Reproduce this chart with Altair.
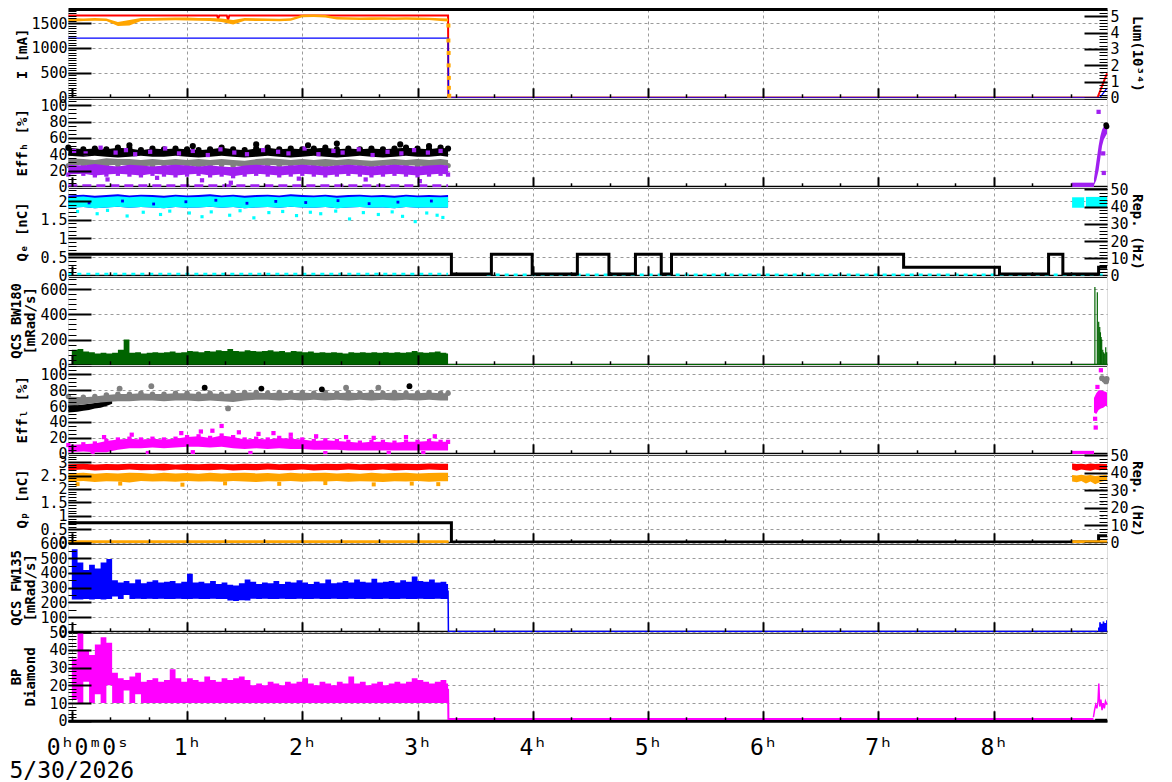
import altair as alt
import pandas as pd

FONT = "DejaVu Sans Mono"
W, H = 1039, 88.8
XDOM = [-0.033, 8.983]
GRIDC = "#9a9a9a"
ORANGE, PURPLE, CYAN, BLUE = "#ffa500", "#a020f0", "#00ffff", "#0000ff"
GREEN, MAGENTA, RED, GRAY = "#006400", "#ff00ff", "#ff0000", "#808080"

HOURS = [0, 1, 2, 3, 4, 5, 6, 7, 8]
GRID_H = [1, 2, 3, 4, 5, 6, 7, 8]
MINOR_H = [h + f for h in range(9) for f in (1 / 3, 2 / 3) if h + f < 8.98]

# ---- sample clocks (hours) ----
TB = [-0.03] + [round(0.1 * i, 1) for i in range(1, 33)] + [3.265]
TF = [round(0.05 * i, 2) for i in range(66)] + [3.265]

# ---- panel 1 : I [mA] ----
I_ORG_LO = [1520, 1540, 1545, 1540, 1440, 1450, 1540, 1545, 1550, 1555, 1550, 1545, 1540, 1520, 1470, 1545, 1540,
            1540, 1535, 1545, 1615, 1620, 1610, 1570, 1565, 1560, 1560, 1565, 1560, 1565, 1560, 1560, 1540, 1530]
I_ORG_HI = [1600, 1590, 1600, 1590, 1520, 1560, 1600, 1600, 1605, 1610, 1610, 1600, 1600, 1590, 1560, 1600, 1595,
            1590, 1585, 1595, 1665, 1670, 1660, 1620, 1615, 1610, 1615, 1615, 1610, 1615, 1610, 1605, 1595, 1590]
I_DROP_T = [3.268, 3.268, 3.27, 3.27, 3.272, 3.272, 3.275]
I_DROP_V = [1450, 1150, 900, 650, 400, 200, 40]
I_RED_T = [-0.03, 1.26, 1.27, 1.28, 1.345, 1.356, 1.367, 3.265, 3.268, 8.90, 8.983]
I_RED_V = [1650, 1650, 1590, 1650, 1650, 1560, 1650, 1650, 0, 0, 490]
I_BLUE_T = [-0.03, 3.265, 3.268, 8.92, 8.983]
I_BLUE_V = [1197, 1197, 0, 0, 195]

# ---- panel 2 : Eff_H [%] ----
EH_BLK_LO = [38, 37, 38, 37, 36, 37, 38, 37, 37, 38, 37, 36, 37, 38, 37, 36, 37, 38, 37, 36, 37, 38, 37, 36, 37, 38,
             37, 36, 37, 38, 37, 37, 38, 37]
EH_BLK_HI = [48, 46, 47, 46, 48, 47, 45, 47, 46, 47, 46, 45, 46, 48, 46, 45, 47, 48, 46, 47, 46, 47, 48, 46, 47, 46,
             47, 46, 47, 48, 47, 46, 48, 47]
EH_GRY_LO = [26, 27, 25, 26, 27, 26, 25, 26, 27, 26, 26, 25, 26, 27, 26, 25, 26, 27, 26, 26, 27, 26, 25, 26, 27, 26,
             25, 26, 27, 26, 26, 25, 26, 26]
EH_GRY_HI = [35, 34, 33, 35, 34, 34, 33, 34, 33, 34, 33, 34, 33, 34, 33, 32, 34, 35, 34, 33, 34, 33, 34, 33, 34, 33,
             32, 33, 34, 33, 34, 33, 34, 33]
EH_PUR_LO = [15, 16, 14, 15, 16, 15, 14, 16, 15, 14, 15, 16, 14, 15, 13, 15, 16, 15, 14, 15, 16, 15, 14, 15, 16, 15,
             14, 15, 16, 15, 14, 15, 16, 15]
EH_PUR_HI = [27, 26, 28, 26, 25, 27, 26, 25, 26, 27, 26, 25, 26, 25, 24, 26, 27, 26, 25, 26, 27, 26, 25, 26, 27, 26,
             25, 26, 27, 26, 25, 26, 27, 26]
EH_POUT_T = [0.02, 0.12, 0.25, 0.38, 0.47, 0.55, 0.68, 0.81, 0.93, 1.05, 1.18, 1.29, 1.41, 1.52, 1.66, 1.79, 1.88,
             2.02, 2.14, 2.27, 2.35, 2.49, 2.61, 2.74, 2.86, 2.97, 3.09, 3.20, 0.31, 0.74, 1.13, 1.38, 1.97, 2.55, 3.02]
EH_POUT_V = [44, 41, 48, 42, 45, 40, 43, 47, 41, 44, 39, 46, 42, 40, 45, 43, 41, 47, 40, 44, 42, 46, 39, 43, 41, 45,
             42, 44, 9, 11, 8, 5, 10, 9, 7]
EH_BOUT_T = [0.50, 1.05, 1.60, 2.05, 2.30, 2.85, 3.10]
EH_BOUT_V = [51, 50, 52, 51, 53, 52, 50]
EH_ZERO_T = [-0.03, 3.265]
EH_ZERO_V = [0.6, 0.6]
EH_END_T = [8.87, 8.89, 8.91, 8.925, 8.94, 8.955, 8.97, 8.983]
EH_END_LO = [2, 8, 20, 35, 50, 58, 62, 65]
EH_END_HI = [10, 30, 50, 62, 70, 74, 76, 77]
EH_LOW_T = [8.676, 8.87]
EH_LOW_V = [2, 2]
EH_EOUT_T = [8.91, 8.95, 8.955]
EH_EOUT_V = [92, 41, 17]
EH_EBLK_T = [8.975, 8.98]
EH_EBLK_V = [76, 74]

# ---- panel 3 : Q_e [nC] / Rep. (Hz) ----
QE_CY_LO = [1.82, 1.84, 1.81, 1.83, 1.85, 1.82, 1.84, 1.83, 1.81, 1.84, 1.82, 1.83, 1.85, 1.82, 1.84, 1.81, 1.83,
            1.84, 1.82, 1.85, 1.83, 1.82, 1.84, 1.81, 1.83, 1.84, 1.82, 1.83, 1.81, 1.84, 1.82, 1.83, 1.82, 1.83]
QE_CY_HI = [2.10, 2.12, 2.09, 2.11, 2.13, 2.10, 2.12, 2.11, 2.09, 2.12, 2.10, 2.11, 2.13, 2.10, 2.12, 2.09, 2.11,
            2.12, 2.10, 2.13, 2.11, 2.10, 2.12, 2.09, 2.11, 2.12, 2.10, 2.11, 2.09, 2.12, 2.10, 2.11, 2.10, 2.11]
QE_BL_HI = [2.15, 2.17, 2.14, 2.16, 2.18, 2.15, 2.17, 2.16, 2.14, 2.17, 2.15, 2.16, 2.18, 2.15, 2.17, 2.14, 2.16,
            2.17, 2.15, 2.18, 2.16, 2.15, 2.17, 2.14, 2.16, 2.17, 2.15, 2.16, 2.14, 2.17, 2.15, 2.16, 2.15, 2.16]
QE_OUT_T = [0.05, 0.22, 0.31, 0.48, 0.62, 0.77, 0.85, 1.02, 1.13, 1.21, 1.37, 1.46, 1.58, 1.71, 1.83, 1.95, 2.07,
            2.16, 2.29, 2.41, 2.53, 2.66, 2.78, 2.87, 2.98, 3.08, 3.17, 3.22]
QE_OUT_V = [1.72, 1.66, 1.75, 1.60, 1.70, 1.64, 1.73, 1.68, 1.58, 1.71, 1.62, 1.74, 1.55, 1.69, 1.72, 1.61, 1.70,
            1.66, 1.73, 1.52, 1.69, 1.64, 1.71, 1.59, 1.45, 1.68, 1.62, 1.56]
QE_BOUT_T = [0.15, 0.44, 0.71, 0.99, 1.25, 1.52, 1.77, 2.03, 2.31, 2.58, 2.83, 3.12]
QE_BOUT_V = [1.95, 2.0, 1.92, 1.98, 2.02, 1.94, 1.99, 1.96, 2.01, 1.93, 1.97, 2.0]
QE_LOW_T = [-0.03, 3.265, 3.6, 8.983]
QE_LOW_V = [0.045, 0.045, 0.03, 0.03]
QE_LOW_S = ["a", "a", "b", "b"]
QE_END_T = [8.68, 8.785, 8.80, 8.983]
QE_END_LO = [1.82, 1.82, 1.82, 1.82]
QE_END_HI = [2.10, 2.10, 2.11, 2.11]
QE_END_S = ["a", "a", "b", "b"]
REP_E_T = [-0.03, 3.294, 3.641, 3.995, 4.387, 4.661, 4.891, 5.115, 5.204, 7.218, 8.05, 8.476, 8.60, 8.91, 8.983]
REP_E_V = [12.5, 1, 12.5, 1, 12.5, 1, 12.5, 1, 12.5, 5, 1, 12.5, 1, 5, 5]

# ---- panel 4 : QCS BW180 ----
BW_TOP = [120, 125, 105, 100, 90, 95, 90, 95, 120, 200, 95, 100, 90, 95, 100, 95, 100, 105, 95, 100,
          110, 105, 100, 110, 105, 115, 110, 125, 110, 105, 115, 110, 105, 110, 115, 105, 110, 100, 110, 105,
          100, 105, 95, 100, 95, 100, 95, 90, 100, 95, 100, 95, 100, 95, 100, 95, 100, 95, 100, 110,
          100, 95, 100, 105, 95, 90]
BW_ZERO_T = [3.265, 8.983]
BW_ZERO_V = [0, 0]
BW_END_T = [8.878, 8.899, 8.911, 8.92, 8.926, 8.932, 8.937, 8.946, 8.954, 8.963, 8.972, 8.98]
BW_END_V = [617, 575, 341, 300, 258, 220, 200, 120, 100, 90, 140, 100]

# ---- panel 5 : Eff_L [%] ----
EL_GRY_LO = [60, 62, 64, 65, 66, 66, 67, 67, 66, 67, 67, 66, 67, 66, 65, 67, 68, 68, 67, 68, 67, 68, 67, 68, 67, 68,
             67, 68, 67, 68, 67, 68, 67, 67]
EL_GRY_HI = [72, 71, 72, 74, 75, 75, 76, 75, 75, 76, 76, 75, 76, 75, 76, 77, 77, 76, 77, 76, 77, 76, 77, 76, 77, 76,
             77, 76, 77, 76, 76, 77, 76, 76]
EL_BLK_T = [-0.03, 0.05, 0.10, 0.15, 0.20, 0.25, 0.30, 0.35]
EL_BLK_LO = [52, 53, 54, 55, 57, 58, 60, 63]
EL_BLK_HI = [62, 61, 62, 63, 64, 65, 66, 68]
EL_MAG_LO = [2, 3, 2, 2, 5, 7, 7, 8, 7, 8, 9, 9, 8, 9, 7, 6, 7, 6, 7, 6, 6, 5, 5, 5, 4, 4, 4, 4, 4, 4, 4, 4, 4, 4]
EL_MAG_HI = [11, 12, 13, 16, 18, 19, 18, 19, 18, 19, 21, 22, 20, 23, 21, 18, 19, 18, 20, 19, 18, 16, 17, 16, 15, 14,
             15, 15, 14, 15, 15, 16, 15, 15]
EL_MOUT_T = [0.28, 0.52, 0.95, 1.12, 1.22, 1.30, 1.45, 1.62, 1.75, 1.90, 2.12, 2.38, 2.62, 2.90, 3.15,
             0.18, 0.66, 1.05, 1.55, 2.20, 2.75, 3.05]
EL_MOUT_V = [21, 24, 26, 28, 29, 35, 27, 25, 26, 24, 22, 21, 20, 21, 22, 0.8, 1, 2, 1, 0.8, 1, 1]
EL_GOUT_T = [0.415, 0.69, 1.356, 2.38, 2.66, 8.94, 8.96, 8.975, 8.98]
EL_GOUT_V = [82, 85, 57, 83, 83, 95, 93, 91, 94]
EL_KOUT_T = [1.153, 1.645, 2.17, 2.93]
EL_KOUT_V = [83, 82, 81, 85]
EL_END_T = [8.87, 8.89, 8.91, 8.93, 8.95, 8.97, 8.983]
EL_END_LO = [52, 50, 55, 57, 58, 60, 60]
EL_END_HI = [70, 76, 80, 80, 79, 78, 77]
EL_EOUT_T = [8.88, 8.885, 8.93, 8.90]
EL_EOUT_V = [44, 33, 105, 84]
EL_LOW_T = [8.676, 8.87]
EL_LOW_V = [1.2, 1.2]

# ---- panel 6 : Q_p [nC] / Rep. (Hz) ----
QP_RED_LO = [2.70, 2.72, 2.69, 2.71, 2.70, 2.72, 2.70, 2.71, 2.69, 2.72, 2.70, 2.71, 2.70, 2.72, 2.69, 2.71, 2.70,
             2.72, 2.71, 2.70, 2.72, 2.69, 2.71, 2.70, 2.72, 2.71, 2.70, 2.72, 2.69, 2.71, 2.70, 2.72, 2.71, 2.71]
QP_RED_HI = [2.92, 2.94, 2.91, 2.93, 2.92, 2.94, 2.93, 2.92, 2.94, 2.91, 2.93, 2.92, 2.94, 2.93, 2.92, 2.94, 2.93,
             2.95, 2.92, 2.94, 2.93, 2.92, 2.94, 2.93, 2.95, 2.92, 2.94, 2.93, 2.95, 2.94, 2.93, 2.95, 2.94, 2.94]
QP_ORG_LO = [2.27, 2.30, 2.26, 2.29, 2.28, 2.24, 2.30, 2.28, 2.29, 2.27, 2.30, 2.28, 2.29, 2.27, 2.30, 2.28, 2.26,
             2.29, 2.28, 2.30, 2.27, 2.29, 2.28, 2.30, 2.27, 2.29, 2.28, 2.26, 2.29, 2.28, 2.30, 2.27, 2.29, 2.29]
QP_ORG_HI = [2.58, 2.60, 2.57, 2.59, 2.58, 2.60, 2.59, 2.57, 2.60, 2.58, 2.59, 2.57, 2.60, 2.58, 2.59, 2.60, 2.58,
             2.59, 2.57, 2.60, 2.58, 2.59, 2.60, 2.58, 2.59, 2.57, 2.60, 2.58, 2.59, 2.60, 2.58, 2.59, 2.60, 2.60]
QP_OOUT_T = [0.05, 0.42, 0.96, 1.33, 1.80, 2.20, 2.62, 2.95, 3.18]
QP_OOUT_V = [2.18, 2.20, 2.16, 2.21, 2.19, 2.22, 2.17, 2.20, 2.18]
QP_END_T = [8.68, 8.72, 8.76, 8.80, 8.84, 8.88, 8.92, 8.96, 8.983]
QP_END_RLO = [2.72, 2.68, 2.72, 2.70, 2.68, 2.72, 2.70, 2.72, 2.72]
QP_END_RHI = [2.95, 2.93, 2.94, 2.92, 2.95, 2.93, 2.94, 2.93, 2.93]
QP_END_OLO = [2.28, 2.25, 2.30, 2.20, 2.28, 2.18, 2.25, 2.30, 2.30]
QP_END_OHI = [2.52, 2.50, 2.53, 2.50, 2.52, 2.48, 2.50, 2.52, 2.52]
REP_P_T = [-0.03, 3.294, 8.91, 8.983]
REP_P_V = [11.5, 0.5, 4, 4]
QP_OLINE_T = [-0.03, 3.27, 8.68, 8.983]
QP_OLINE_V = [0.6, 0.6, 0.6, 0.6]
QP_OLINE_S = ["a", "a", "b", "b"]

# ---- panel 7 : QCS FW135 ----
FW_TOP = [560, 470, 420, 455, 430, 470, 495, 350, 335, 345, 330, 355, 330, 340, 350, 335, 340, 345, 330, 340,
          395, 335, 340, 330, 345, 325, 335, 320, 315, 330, 355, 340, 325, 335, 330, 345, 325, 340, 335, 350,
          335, 325, 340, 330, 355, 330, 335, 345, 335, 355, 340, 335, 360, 335, 340, 345, 335, 350, 340, 375,
          345, 340, 355, 335, 340, 325]
FW_BOT = [220, 220, 222, 220, 222, 220, 222, 240, 222, 250, 222, 224, 222, 224, 222, 224, 222, 222, 224, 222,
          222, 224, 222, 222, 224, 222, 222, 212, 210, 214, 212, 225, 222, 224, 222, 222, 224, 222, 222, 224,
          222, 222, 224, 222, 222, 224, 222, 222, 224, 222, 222, 224, 222, 222, 224, 222, 222, 224, 222, 222,
          224, 222, 222, 224, 222, 222]
FW_DROP_T = [3.265, 3.268, 8.90]
FW_DROP_V = [280, 1.5, 1.5]
FW_END_T = [8.895, 8.905, 8.915, 8.93, 8.945, 8.96, 8.975, 8.983]
FW_END_V = [0, 30, 65, 55, 70, 60, 78, 80]

# ---- panel 8 : BP Diamond ----
BP_TOP = [35, 50, 40, 37, 43, 47, 44, 27, 24, 23, 25, 27, 22, 23, 24, 22, 23, 29, 24, 22,
          24, 23, 22, 25, 23, 22, 24, 23, 24, 25, 23, 20, 21, 20, 22, 21, 20, 22, 21, 22,
          24, 21, 20, 22, 21, 20, 22, 21, 25, 21, 22, 20, 21, 22, 20, 21, 22, 21, 22, 24,
          23, 22, 21, 22, 23, 21]
BP_BOT = [12, 10, 22, 10, 15, 10, 20, 10, 10, 17, 10, 15, 10, 10, 10, 10, 10, 10, 10, 10,
          10, 10, 10, 10, 10, 10, 10, 10, 10, 10, 10, 10, 10, 10, 10, 10, 10, 10, 10, 10,
          10, 10, 10, 10, 10, 10, 10, 10, 10, 10, 10, 10, 10, 10, 10, 10, 10, 10, 10, 10,
          10, 10, 10, 10, 10, 10]
BP_DROP_T = [3.265, 3.268, 8.865]
BP_DROP_V = [18, 1.0, 1.0]
BP_END_T = [8.865, 8.875, 8.885, 8.895, 8.905, 8.912, 8.92, 8.93, 8.94, 8.95, 8.96, 8.97, 8.983]
BP_END_V = [2, 6, 9, 7, 11, 21, 8, 12, 6, 10, 7, 11, 9]
BP_BLK_T = [8.88, 8.983]
BP_BLK_V = [0.3, 0.3]


# ---------------------------------------------------------------- helpers
def sc(dom):
    return alt.Scale(domain=dom, nice=False, zero=False)


def xe(axis=None):
    return alt.X("t:Q", scale=sc(XDOM), axis=axis)


def df(t, **cols):
    d = {"t": t}
    d.update(cols)
    return pd.DataFrame(d)


def band(data, dom, color, interp="linear", detail=False):
    enc = dict(x=xe(), y=alt.Y("hi:Q", scale=sc(dom), axis=None), y2=alt.Y2("lo"))
    if detail:
        enc["detail"] = alt.Detail("s:N")
    return alt.Chart(data).mark_area(color=color, interpolate=interp, opacity=1).encode(**enc)


def line(data, dom, color, width=1.5, interp="linear", dash=None, detail=False):
    kw = dict(color=color, strokeWidth=width, interpolate=interp)
    if dash:
        kw["strokeDash"] = dash
    enc = dict(x=xe(), y=alt.Y("v:Q", scale=sc(dom), axis=None))
    if detail:
        enc["detail"] = alt.Detail("s:N")
    return alt.Chart(data).mark_line(**kw).encode(**enc)


def pts(data, dom, color, field="v", shape="square", size=14):
    return alt.Chart(data).mark_point(shape=shape, size=size, filled=True, color=color, opacity=1).encode(
        x=xe(), y=alt.Y(f"{field}:Q", scale=sc(dom), axis=None))


def carrier(dom, xaxis=None, yaxis=None):
    d = pd.DataFrame({"t": [XDOM[0]], "v": [dom[0]]})
    return alt.Chart(d).mark_point(opacity=0).encode(
        x=alt.X("t:Q", scale=sc(XDOM), axis=xaxis),
        y=alt.Y("v:Q", scale=sc(dom), axis=yaxis))


TITLE_KW = dict(titleFont=FONT, titleFontSize=14, titleFontWeight="bold", titleColor="black",
                titleY=H / 2, titleAngle=270, titleAlign="center", titleBaseline="middle")


def left_label_axis(values, title, tx):
    return alt.Axis(orient="left", values=values, format="~r", labelFontSize=15, labelPadding=1,
                    labelOverlap=False, labelColor="black", labelFont=FONT, ticks=False, tickSize=0,
                    domain=False, grid=True, gridColor=GRIDC, gridDash=[3, 3], gridWidth=1,
                    title=title, titleX=tx, **TITLE_KW)


def right_label_axis(values, title):
    return alt.Axis(orient="right", values=values, format="~r", labelFontSize=15, labelPadding=3,
                    labelOverlap=False, labelColor="black", labelFont=FONT, ticks=False, tickSize=0,
                    domain=False, grid=False, title=title, titleFont=FONT, titleFontSize=14,
                    titleFontWeight="bold", titleColor="black", titleX=29, titleY=H / 2, titleAngle=90,
                    titleAlign="center", titleBaseline="middle")


def tick_axis(orient, values, size, width, title="", tx=None):
    kw = dict(orient=orient, values=values, labels=False, ticks=True, tickSize=size, tickWidth=width,
              tickColor="black", offset=-size, domain=False, grid=False, title=title, zindex=1)
    if title:
        kw.update(titleX=tx, **TITLE_KW)
    return alt.Axis(**kw)


def x_grid_axis(bottom):
    kw = dict(orient="bottom", values=GRID_H if not bottom else HOURS, grid=True, gridColor=GRIDC,
              gridDash=[3, 3], gridWidth=1, ticks=False, tickSize=0, domain=True, domainColor="black",
              domainWidth=3, labels=bottom)
    if bottom:
        kw.update(labelExpr="datum.value == 0 ? '0\u02b00\u1d500\u02e2' : format(datum.value, 'd') + '\u02b0'",
                  labelOffset={"condition": {"test": "datum.value == 0", "value": 16}, "value": 0},
                  labelFontSize=23, labelFont=FONT, labelColor="black", labelPadding=16, labelFlush=False,
                  labelOverlap=False, title="5/30/2026", titleFont=FONT, titleFontSize=23,
                  titleFontWeight="normal", titleColor="black", titleX=-59, titleY=57, titleAlign="left",
                  titleAnchor="start", titleBaseline="alphabetic", titleAngle=0)
    else:
        kw["title"] = ""
    return alt.Axis(**kw)


def top_axis():
    return alt.Axis(orient="top", ticks=False, labels=False, grid=False, domain=True, domainColor="black",
                    domainWidth=3, title="")


def panel(data_layers, dom, major, minor, title, right=None, bottom=False, top=False):
    if isinstance(title, list):
        t1, t1x, t2, t2x = title[0], -52, title[1], -38 - 8
    else:
        t1, t1x, t2, t2x = title, -46, "", None
    L = [carrier(dom, x_grid_axis(bottom), left_label_axis(major, t1, t1x)),
         carrier(dom, tick_axis("bottom", HOURS, 10, 2), tick_axis("left", major, 23, 2)),
         carrier(dom, tick_axis("bottom", MINOR_H, 4, 1.5), tick_axis("left", minor, 8, 1, t2, t2x))]
    if top:
        L.append(carrier(dom, top_axis(), None))
    if right:
        rdom, rmajor, rminor, rtitle = right
        L += [carrier(rdom, None, right_label_axis(rmajor, rtitle)),
              carrier(rdom, None, tick_axis("right", rmajor, 23, 2)),
              carrier(rdom, None, tick_axis("right", rminor, 8, 1))]
    L += data_layers
    return alt.layer(*L).resolve_scale(y="independent").resolve_axis(x="independent").properties(
        width=W, height=H)


def steps(lo, hi, n):
    return [round(lo + hi * i, 4) for i in range(n)]


def close(a):
    return a + [a[-1]]


# ---------------------------------------------------------------- panels
D1, DL = [0, 1782], [0, 5.45]
p1 = panel([
    line(df(I_RED_T, v=I_RED_V), D1, RED, 2),
    line(df(I_BLUE_T, v=I_BLUE_V), D1, BLUE, 1.3),
    band(df(TB, lo=I_ORG_LO, hi=I_ORG_HI), D1, ORANGE),
    pts(df(I_DROP_T, v=I_DROP_V), D1, ORANGE, size=16),
], D1, [0, 500, 1000, 1500], steps(0, 50, 36), "I [mA]",
    right=(DL, [0, 1, 2, 3, 4, 5], steps(0, 0.2, 28), "Lum(10\u00b3\u2074)"), top=True)

D2 = [0, 109]
p2 = panel([
    band(df(TB, lo=EH_BLK_LO, hi=EH_BLK_HI), D2, "black"),
    pts(df(TB, v=EH_BLK_HI), D2, "black", shape="circle", size=38),
    band(df(TB, lo=EH_GRY_LO, hi=EH_GRY_HI), D2, GRAY),
    pts(df(TB, v=EH_GRY_LO), D2, GRAY, shape="circle", size=30),
    band(df(TB, lo=EH_PUR_LO, hi=EH_PUR_HI), D2, PURPLE),
    pts(df(TB, v=EH_PUR_LO), D2, PURPLE, size=18),
    pts(df(EH_POUT_T, v=EH_POUT_V), D2, PURPLE, size=18),
    pts(df(EH_BOUT_T, v=EH_BOUT_V), D2, "black", shape="circle", size=38),
    line(df(EH_ZERO_T, v=EH_ZERO_V), D2, PURPLE, 4, dash=[9, 5]),
    line(df(EH_LOW_T, v=EH_LOW_V), D2, PURPLE, 5),
    band(df(EH_END_T, lo=EH_END_LO, hi=EH_END_HI), D2, PURPLE),
    pts(df(EH_EOUT_T, v=EH_EOUT_V), D2, PURPLE, size=18),
    pts(df(EH_EBLK_T, v=EH_EBLK_V), D2, "black", shape="circle", size=30),
], D2, [0, 20, 40, 60, 80, 100], steps(0, 5, 22), "Eff\u2095 [%]")

D3, DR3 = [0, 2.375], [0, 51.3]
p3 = panel([
    band(df(TB, lo=QE_CY_LO, hi=QE_BL_HI), D3, BLUE),
    band(df(TB, lo=QE_CY_LO, hi=QE_CY_HI), D3, CYAN),
    pts(df(QE_BOUT_T, v=QE_BOUT_V), D3, BLUE, size=8),
    pts(df(QE_OUT_T, v=QE_OUT_V), D3, CYAN, size=10),
    line(df(QE_LOW_T, v=QE_LOW_V, s=QE_LOW_S), D3, CYAN, 2.5, dash=[4, 5], detail=True),
    band(df(QE_END_T, lo=QE_END_LO, hi=QE_END_HI, s=QE_END_S), D3, CYAN, detail=True),
    line(df(REP_E_T, v=REP_E_V), DR3, "black", 3, interp="step-after"),
], D3, [0, 0.5, 1, 1.5, 2], steps(0, 0.1, 24), "Q\u2091 [nC]",
    right=(DR3, [0, 10, 20, 30, 40, 50], steps(0, 2, 26), "Rep. (Hz)"))

D4 = [0, 704]
p4 = panel([
    alt.Chart(df(TF, v=close(BW_TOP))).mark_area(color=GREEN, interpolate="step-after").encode(
        x=xe(), y=alt.Y("v:Q", scale=sc(D4), axis=None)),
    line(df(BW_ZERO_T, v=BW_ZERO_V), D4, GREEN, 1.5),
    alt.Chart(df(BW_END_T, v=BW_END_V)).mark_rule(color=GREEN, strokeWidth=1.2).encode(
        x=xe(), y=alt.Y("v:Q", scale=sc(D4), axis=None), y2=alt.datum(0)),
], D4, [0, 200, 400, 600], steps(0, 40, 18), ["QCS BW180", "[mRad/s]"])

D5 = [0, 111.6]
p5 = panel([
    band(df(EL_BLK_T, lo=EL_BLK_LO, hi=EL_BLK_HI), D5, "black"),
    band(df(TB, lo=EL_GRY_LO, hi=EL_GRY_HI), D5, GRAY),
    pts(df(TB, v=EL_GRY_HI), D5, GRAY, shape="circle", size=30),
    pts(df(EL_KOUT_T, v=EL_KOUT_V), D5, "black", shape="circle", size=34),
    pts(df(EL_GOUT_T, v=EL_GOUT_V), D5, GRAY, shape="circle", size=34),
    band(df(TB, lo=EL_MAG_LO, hi=EL_MAG_HI), D5, MAGENTA),
    pts(df(TB, v=EL_MAG_HI), D5, MAGENTA, size=18),
    pts(df(EL_MOUT_T, v=EL_MOUT_V), D5, MAGENTA, size=18),
    band(df(EL_END_T, lo=EL_END_LO, hi=EL_END_HI), D5, MAGENTA),
    pts(df(EL_EOUT_T, v=EL_EOUT_V), D5, MAGENTA, size=18),
    line(df(EL_LOW_T, v=EL_LOW_V), D5, MAGENTA, 4),
], D5, [0, 20, 40, 60, 80, 100], steps(0, 5, 23), "Eff\u2097 [%]")

D6, DR6 = [0, 3.3], [0, 50.7]
p6 = panel([
    band(df(TB, lo=QP_RED_LO, hi=QP_RED_HI), D6, RED),
    band(df(TB, lo=QP_ORG_LO, hi=QP_ORG_HI), D6, ORANGE),
    pts(df(QP_OOUT_T, v=QP_OOUT_V), D6, ORANGE, size=16),
    band(df(QP_END_T, lo=QP_END_RLO, hi=QP_END_RHI), D6, RED),
    band(df(QP_END_T, lo=QP_END_OLO, hi=QP_END_OHI), D6, ORANGE),
    line(df(REP_P_T, v=REP_P_V), DR6, "black", 3, interp="step-after"),
    line(df(QP_OLINE_T, v=QP_OLINE_V, s=QP_OLINE_S), DR6, ORANGE, 3, detail=True),
], D6, [0, 0.5, 1, 1.5, 2, 2.5, 3], steps(0, 0.1, 33), "Q\u209a [nC]",
    right=(DR6, [0, 10, 20, 30, 40, 50], steps(0, 2, 26), "Rep. (Hz)"))

D7 = [0, 603]
p7 = panel([
    band(df(TF, lo=close(FW_BOT), hi=close(FW_TOP)), D7, BLUE, interp="step-after"),
    line(df(FW_DROP_T, v=FW_DROP_V), D7, BLUE, 1.5),
    alt.Chart(df(FW_END_T, v=FW_END_V)).mark_area(color=BLUE, interpolate="step-after").encode(
        x=xe(), y=alt.Y("v:Q", scale=sc(D7), axis=None)),
], D7, [0, 100, 200, 300, 400, 500, 600], steps(0, 50, 13), ["QCS FW135", "[mRad/s]"])

D8 = [0, 50]
p8 = panel([
    band(df(TF, lo=close(BP_BOT), hi=close(BP_TOP)), D8, MAGENTA, interp="step-after"),
    line(df(BP_DROP_T, v=BP_DROP_V), D8, MAGENTA, 2),
    line(df(BP_END_T, v=BP_END_V), D8, MAGENTA, 1.5),
    line(df(BP_BLK_T, v=BP_BLK_V), D8, "black", 3),
], D8, [0, 10, 20, 30, 40, 50], steps(0, 2, 26), ["BP", "Diamond"], bottom=True)

chart = alt.vconcat(p1, p2, p3, p4, p5, p6, p7, p8, spacing=0, bounds="flush").properties(
    padding={"left": 0, "top": 0, "right": 0, "bottom": 0}
).configure_view(stroke="black", strokeWidth=1).configure(font=FONT)

chart.save("out.html", embed_options={"renderer": "svg", "actions": False})
